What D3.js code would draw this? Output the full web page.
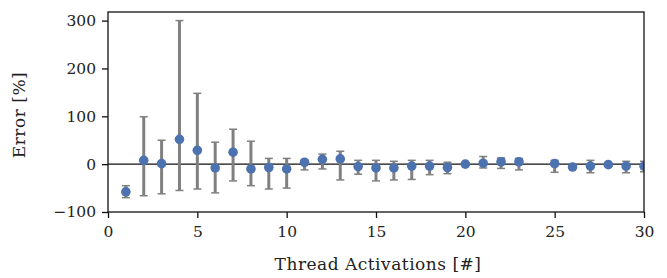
<!DOCTYPE html>
<html>
<head>
<meta charset="utf-8">
<script src="https://cdn.jsdelivr.net/npm/d3@7"></script>
<style>
  body { margin: 0; background: #fff; }
  text { font-family: "DejaVu Serif", "Liberation Serif", serif; fill: #222; }
</style>
</head>
<body>
<div id="chart"></div>
<script>
// thread activation counts
var activations = [1, 2, 3, 4, 5, 6, 7, 8, 9, 10, 11, 12, 13, 14, 15, 16, 17, 18, 19, 20, 21, 22, 23, 25, 26, 27, 28, 29, 30];
// mean error (%)
var meanError = [-58, 8, 1, 52, 29, -8, 25, -10, -7, -10, 4, 10, 11, -5, -8, -8, -4, -4, -7, 0, 2, 5, 5, 1, -6, -4, -1, -4, -4];
// error bar upper / lower ends (%)
var errHigh = [-45, 99, 50, 300, 148, 46, 73, 48, 12, 12, 8, 21, 27, 8, 8, 6, 8, 8, 4, 2, 16, 13, 12, 8, -3, 8, 2, 6, 6];
var errLow = [-70, -66, -62, -55, -52, -60, -35, -45, -52, -50, -12, -10, -33, -21, -35, -33, -32, -22, -20, -2, -8, -9, -12, -17, -8, -18, -4, -18, -16];

var xTicks = [0, 5, 10, 15, 20, 25, 30];
var yTicks = [-100, 0, 100, 200, 300];

var svgWidth = 667;
var svgHeight = 278;
var margin = { top: 12, right: 23, bottom: 66, left: 108 };
var width = svgWidth - margin.left - margin.right;
var height = svgHeight - margin.top - margin.bottom;

var svg = d3.select("#chart").append("svg")
  .attr("width", svgWidth)
  .attr("height", svgHeight);

var g = svg.append("g")
  .attr("transform", `translate(${margin.left}, ${margin.top})`);

var x = d3.scaleLinear().domain([0, 30]).range([0, width]);
var y = d3.scaleLinear().domain([-100, 318]).range([height, 0]);

g.append("clipPath").attr("id", "clip")
  .append("rect").attr("width", width).attr("height", height);

var points = activations.map(function(a, i) {
  return { x: a, y: meanError[i], hi: errHigh[i], lo: errLow[i] };
});

var plot = g.append("g").attr("clip-path", "url(#clip)");

// zero line
plot.append("line")
  .attr("x1", 0).attr("x2", width)
  .attr("y1", y(0)).attr("y2", y(0))
  .attr("stroke", "#111").attr("stroke-width", 1.3);

// error bars
var bars = plot.selectAll(".err").data(points).enter().append("g").attr("class", "err")
  .attr("stroke", "#808080");
bars.append("line")
  .attr("x1", d => x(d.x)).attr("x2", d => x(d.x))
  .attr("y1", d => y(d.hi)).attr("y2", d => y(d.lo))
  .attr("stroke-width", 3);
bars.append("line")
  .attr("x1", d => x(d.x) - 4).attr("x2", d => x(d.x) + 4)
  .attr("y1", d => y(d.hi)).attr("y2", d => y(d.hi))
  .attr("stroke-width", 1.5);
bars.append("line")
  .attr("x1", d => x(d.x) - 4).attr("x2", d => x(d.x) + 4)
  .attr("y1", d => y(d.lo)).attr("y2", d => y(d.lo))
  .attr("stroke-width", 1.5);

// points
plot.selectAll(".dot").data(points).enter().append("circle")
  .attr("class", "dot")
  .attr("cx", d => x(d.x))
  .attr("cy", d => y(d.y))
  .attr("r", 4.8)
  .attr("fill", "#4c72b0");

// axes
var xAxis = g.append("g")
  .attr("transform", `translate(0, ${height})`)
  .call(d3.axisBottom(x).tickValues(xTicks).tickSize(6).tickPadding(8).tickFormat(d3.format("d")));
var yAxis = g.append("g")
  .call(d3.axisLeft(y).tickValues(yTicks).tickSize(6).tickPadding(6)
    .tickFormat(d => d < 0 ? "\u2212" + Math.abs(d) : d));

[xAxis, yAxis].forEach(function(a) {
  a.select(".domain").remove();
  a.selectAll(".tick line").attr("stroke", "#111").attr("stroke-width", 1.3);
  a.selectAll(".tick text").style("font-size", "15.5px").attr("fill", "#222");
});

// frame
g.append("rect")
  .attr("width", width).attr("height", height)
  .attr("fill", "none").attr("stroke", "#111").attr("stroke-width", 1.3);

// labels
svg.append("text")
  .attr("x", margin.left + width / 2 + 2).attr("y", 270)
  .attr("text-anchor", "middle")
  .style("font-size", "17px")
  .style("letter-spacing", "0.5px")
  .text("Thread Activations [#]");

svg.append("text")
  .attr("transform", `translate(25, ${margin.top + height / 2 + 3}) rotate(-90)`)
  .attr("text-anchor", "middle")
  .style("font-size", "17px")
  .style("letter-spacing", "0.5px")
  .text("Error [%]");
</script>
</body>
</html>
